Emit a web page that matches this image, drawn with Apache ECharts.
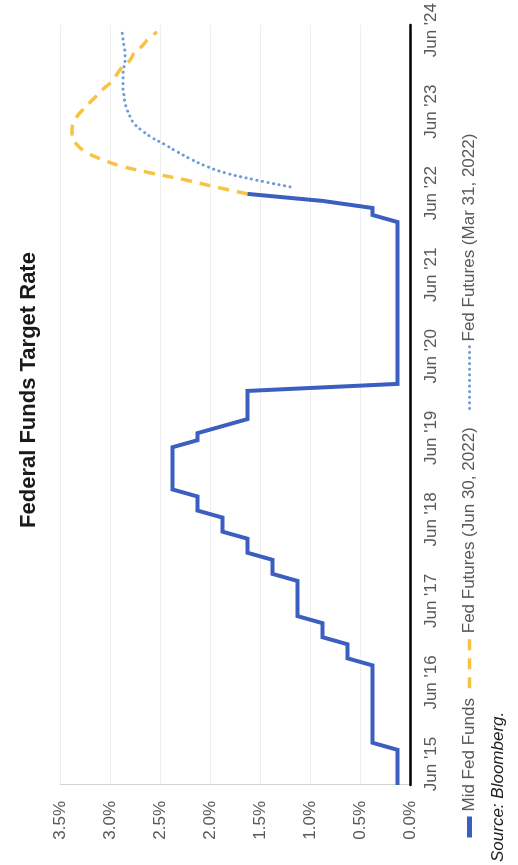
<!DOCTYPE html>
<html>
<head>
<meta charset="utf-8">
<script src="https://cdn.jsdelivr.net/npm/echarts@6/dist/echarts.min.js"></script>
<style>
  html, body { margin: 0; padding: 0; background: #fff; }
  #page { position: relative; width: 518px; height: 865px; overflow: hidden; background: #fff; }
  /* the chart is laid out landscape and turned a quarter-turn counter-clockwise */
  #chart {
    position: absolute; left: 0; top: 0;
    width: 865px; height: 518px;
    transform-origin: 0 0;
    transform: translate(0, 865px) rotate(-90deg);
  }
</style>
</head>
<body>
<div id="page"><div id="chart"></div></div>
<script>
// Month index 0 = Jun 2015, 108 = Jun 2024
const xTickLabels = ["Jun '15", "Jun '16", "Jun '17", "Jun '18", "Jun '19",
                     "Jun '20", "Jun '21", "Jun '22", "Jun '23", "Jun '24"];
const yTickValues = [0, 0.5, 1.0, 1.5, 2.0, 2.5, 3.0, 3.5];

// Mid point of the fed funds target range, monthly, Jun 2015 .. Jun 2022
const midFedMonths = [];
for (let i = 0; i <= 84; i++) midFedMonths.push(i);
const midFedFunds = [
  0.125, 0.125, 0.125, 0.125, 0.125, 0.125,                     // Jun-Nov 2015
  0.375, 0.375, 0.375, 0.375, 0.375, 0.375,                     // Dec 2015-May 2016
  0.375, 0.375, 0.375, 0.375, 0.375, 0.375,                     // Jun-Nov 2016
  0.625, 0.625, 0.625,                                          // Dec 2016-Feb 2017
  0.875, 0.875, 0.875,                                          // Mar-May 2017
  1.125, 1.125, 1.125, 1.125, 1.125, 1.125,                     // Jun-Nov 2017
  1.375, 1.375, 1.375,                                          // Dec 2017-Feb 2018
  1.625, 1.625, 1.625,                                          // Mar-May 2018
  1.875, 1.875, 1.875,                                          // Jun-Aug 2018
  2.125, 2.125, 2.125,                                          // Sep-Nov 2018
  2.375, 2.375, 2.375, 2.375, 2.375, 2.375, 2.375,              // Dec 2018-Jun 2019
  2.125, 2.125,                                                 // Jul-Aug 2019
  1.875,                                                        // Sep 2019
  1.625, 1.625, 1.625, 1.625, 1.625,                            // Oct 2019-Feb 2020
  0.125, 0.125, 0.125, 0.125, 0.125, 0.125, 0.125, 0.125,       // Mar-Oct 2020
  0.125, 0.125, 0.125, 0.125, 0.125, 0.125, 0.125, 0.125,       // Nov 2020-Jun 2021
  0.125, 0.125, 0.125, 0.125, 0.125, 0.125, 0.125, 0.125,       // Jul 2021-Feb 2022
  0.375, 0.375, 0.875, 1.625                                    // Mar-Jun 2022
];

// Futures-implied path as of Jun 30, 2022 (months 84..107)
const futJunMonths = [];
for (let i = 84; i <= 107; i++) futJunMonths.push(i);
const futJun = [
  1.625, 1.95, 2.25, 2.60, 2.90, 3.10, 3.25, 3.33, 3.38, 3.38, 3.37, 3.33,
  3.27, 3.20, 3.13, 3.06, 2.98, 2.93, 2.88, 2.80, 2.76, 2.68, 2.62, 2.53
];

// Futures-implied path as of Mar 31, 2022 (months 85..107)
const futMarMonths = [];
for (let i = 85; i <= 107; i++) futMarMonths.push(i);
const futMar = [
  1.20, 1.55, 1.85, 2.05, 2.20, 2.33, 2.45, 2.58, 2.68, 2.76, 2.80, 2.83,
  2.85, 2.86, 2.87, 2.87, 2.87, 2.86, 2.85, 2.85, 2.86, 2.87, 2.88
];

const zip = (xs, ys) => xs.map((x, i) => [x, ys[i]]);

const FONT = 'Liberation Sans, Arial, sans-serif';
const labelFont = { fontFamily: FONT, fontSize: 17, color: '#595959' };
const legendText = { fontFamily: FONT, fontSize: 17, color: '#595959' };

const BLUE = '#3b5fc0', GOLD = '#f6c343', SKY = '#6c9bd8';

const chart = echarts.init(document.getElementById('chart'), null, { renderer: 'canvas' });
chart.setOption({
  animation: false,
  backgroundColor: '#fff',
  title: {
    text: 'Federal Funds Target Rate',
    left: 470, top: 13, textAlign: 'center',
    textStyle: { fontFamily: FONT, fontSize: 22, fontWeight: 'bold', color: '#1a1a1a' }
  },
  grid: [
    { left: 80, right: 25, top: 60, bottom: 108, containLabel: false },
    // carries the date labels along the bottom edge
    { left: 101, right: 22, top: 60, bottom: 108, containLabel: false }
  ],
  xAxis: [
    {
      gridIndex: 0, type: 'value', min: 0, max: 108, interval: 12,
      axisLine: { show: true, onZero: false, lineStyle: { color: '#000', width: 2.5 } },
      axisTick: { show: false },
      splitLine: { show: false },
      axisLabel: { show: false }
    },
    {
      gridIndex: 1, type: 'value', min: 0, max: 108, interval: 12,
      axisLine: { show: false }, axisTick: { show: false }, splitLine: { show: false },
      axisLabel: Object.assign({ margin: 13, showMaxLabel: true, showMinLabel: true,
        formatter: v => xTickLabels[Math.round(v / 12)] }, labelFont)
    }
  ],
  yAxis: [
    {
      gridIndex: 0, type: 'value', min: 0, max: 3.5, interval: 0.5,
      axisLine: { show: true, lineStyle: { color: '#d4d4d4', width: 1 } },
      axisTick: { show: false },
      splitLine: { show: true, lineStyle: { color: '#efefef', width: 1 } },
      axisLabel: Object.assign({ margin: 16,
        formatter: v => yTickValues.includes(v) ? v.toFixed(1) + '%' : '' }, labelFont)
    },
    { gridIndex: 1, type: 'value', min: 0, max: 3.5, show: false }
  ],
  legend: [
    { data: ['Mid Fed Funds'], left: 25, top: 461, padding: 0, itemWidth: 21, itemHeight: 14,
      itemStyle: { opacity: 0 }, lineStyle: { width: 5 }, textStyle: legendText },
    { data: ['Fed Futures (Jun 30, 2022)'], left: 175, top: 461, padding: 0, itemWidth: 50, itemHeight: 14,
      itemStyle: { opacity: 0 }, lineStyle: { width: 3.5 }, textStyle: legendText },
    { data: ['Fed Futures (Mar 31, 2022)'], left: 455, top: 461, padding: 0, itemWidth: 62, itemHeight: 14,
      itemStyle: { opacity: 0 }, lineStyle: { width: 3 }, textStyle: legendText }
  ],
  graphic: [{
    type: 'text', left: 3, top: 490,
    style: { text: 'Source: Bloomberg.', fontFamily: FONT,
      fontSize: 17, fontStyle: 'italic', fill: '#222' }
  }],
  series: [
    {
      name: 'Mid Fed Funds', type: 'line', data: zip(midFedMonths, midFedFunds),
      xAxisIndex: 0, yAxisIndex: 0, symbol: 'none', z: 3,
      lineStyle: { color: BLUE, width: 4, join: 'miter' },
      itemStyle: { color: BLUE }
    },
    {
      name: 'Fed Futures (Jun 30, 2022)', type: 'line', data: zip(futJunMonths, futJun),
      xAxisIndex: 0, yAxisIndex: 0, symbol: 'none', smooth: 0.4, z: 2,
      lineStyle: { color: GOLD, width: 3.5, type: [11, 8] },
      itemStyle: { color: GOLD }
    },
    {
      name: 'Fed Futures (Mar 31, 2022)', type: 'line', data: zip(futMarMonths, futMar),
      xAxisIndex: 0, yAxisIndex: 0, symbol: 'none', smooth: 0.4, z: 2,
      lineStyle: { color: SKY, width: 3, type: [0.1, 5.5], cap: 'round' },
      itemStyle: { color: SKY }
    }
  ]
});
</script>
</body>
</html>
